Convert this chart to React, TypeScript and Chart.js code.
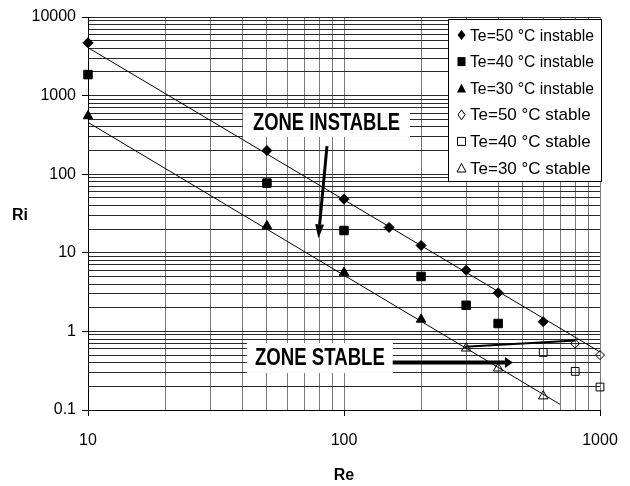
import React, { useEffect, useRef } from 'react';
import { Chart, registerables } from 'chart.js';

Chart.register(...registerables);

// ---- data ----
const te50InstableRe = [10, 50, 100, 150, 200, 300, 400, 600];
const te50InstableRi = [4700, 200, 48, 21, 12.4, 6.0, 3.1, 1.33];
const te40InstableRe = [10, 50, 100, 200, 300, 400];
const te40InstableRi = [1850, 77, 19.2, 5.0, 2.15, 1.26];
const te30InstableRe = [10, 50, 100, 200];
const te30InstableRi = [550, 22, 5.6, 1.42];
const te50StableRe = [800, 1000];
const te50StableRi = [0.7, 0.5];
const te40StableRe = [600, 800, 1000];
const te40StableRi = [0.54, 0.31, 0.196];
const te30StableRe = [300, 400, 600];
const te30StableRi = [0.61, 0.34, 0.15];

const trendUpperRe = [10, 1000];
const trendUpperRi = [4070, 0.547];
const trendLowerRe = [10, 698];
const trendLowerRi = [457, 0.118];

const seriesLabels = [
  'Te=50 °C instable',
  'Te=40 °C instable',
  'Te=30 °C instable',
  'Te=50 °C stable',
  'Te=40 °C stable',
  'Te=30 °C stable',
];

const xMajorValues = [10, 100, 1000];
const xMajorLabels = ['10', '100', '1000'];
const yMajorValues = [0.1, 1, 10, 100, 1000, 10000];
const yMajorLabels = ['0.1', '1', '10', '100', '1000', '10000'];

const xTitle = 'Re';
const yTitle = 'Ri';
const zoneInstableText = 'ZONE INSTABLE';
const zoneStableText = 'ZONE STABLE';

// annotation anchors in data coordinates
const instableLabelAt = { x: 85.4, y: 455 };
const instableArrow = { x1: 85.8, y1: 228, x2: 79.4, y2: 15.3 };
const stableLabelAt = { x: 80.5, y: 0.459 };
const stableArrow = { x1: 155, y1: 0.402, x2: 457, y2: 0.402 };
const stableConnector = { x1: 297, y1: 0.639, x2: 802, y2: 0.766 };

const FONT = "'Liberation Sans', Arial, sans-serif";

function decadeGrid(majors: number[]): number[] {
  const out: number[] = [];
  for (let i = 0; i < majors.length; i++) {
    const m = majors[i];
    if (i === majors.length - 1) {
      out.push(m);
    } else {
      for (let d = 1; d <= 9; d++) out.push(Number((m * d).toPrecision(6)));
    }
  }
  return out;
}

const pts = (xs: number[], ys: number[]) => xs.map((x, i) => ({ x, y: ys[i] }));

type MarkerKind = 'diamond' | 'square' | 'triangle';
const markerKinds: MarkerKind[] = ['diamond', 'square', 'triangle', 'diamond', 'square', 'triangle'];
const markerFilled = [true, true, true, false, false, false];

function drawMarker(ctx: CanvasRenderingContext2D, kind: MarkerKind, x: number, y: number, filled: boolean) {
  ctx.beginPath();
  if (kind === 'diamond') {
    const w = filled ? 4 : 3.5, h = 5;
    ctx.moveTo(x, y - h);
    ctx.lineTo(x + w, y);
    ctx.lineTo(x, y + h);
    ctx.lineTo(x - w, y);
  } else if (kind === 'square') {
    const w = 4, h = filled ? 4.5 : 4;
    ctx.rect(x - w, y - h, 2 * w, 2 * h);
  } else {
    const w = 4.5, h = filled ? 8.5 : 8;
    ctx.moveTo(x, y - h / 2 - 0.5);
    ctx.lineTo(x + w, y + h / 2);
    ctx.lineTo(x - w, y + h / 2);
  }
  ctx.closePath();
  if (filled) {
    ctx.fillStyle = '#000';
    ctx.fill();
  } else {
    ctx.lineWidth = 1;
    ctx.strokeStyle = '#000';
    ctx.stroke();
  }
}

function drawArrow(ctx: CanvasRenderingContext2D, x1: number, y1: number, x2: number, y2: number, lw: number, headLen: number, headHalf: number) {
  const ang = Math.atan2(y2 - y1, x2 - x1);
  const bx = x2 - Math.cos(ang) * headLen;
  const by = y2 - Math.sin(ang) * headLen;
  ctx.save();
  ctx.strokeStyle = '#000';
  ctx.fillStyle = '#000';
  ctx.lineWidth = lw;
  ctx.beginPath();
  ctx.moveTo(x1, y1);
  ctx.lineTo(bx, by);
  ctx.stroke();
  ctx.beginPath();
  ctx.moveTo(x2, y2);
  ctx.lineTo(bx + Math.sin(ang) * headHalf, by - Math.cos(ang) * headHalf);
  ctx.lineTo(bx - Math.sin(ang) * headHalf, by + Math.cos(ang) * headHalf);
  ctx.closePath();
  ctx.fill();
  ctx.restore();
}

const overlayPlugin = {
  id: 'overlay',
  afterDraw(chart: any) {
    const ctx: CanvasRenderingContext2D = chart.ctx;
    const xs = chart.scales.x;
    const ys = chart.scales.y;
    const area = chart.chartArea;
    const px = (v: number) => xs.getPixelForValue(v);
    const py = (v: number) => ys.getPixelForValue(v);
    ctx.save();

    // Y title (horizontal)
    ctx.fillStyle = '#000';
    ctx.font = `bold 16px ${FONT}`;
    ctx.textAlign = 'center';
    ctx.textBaseline = 'middle';
    ctx.fillText(yTitle, 20, (area.top + area.bottom) / 2 + 2);

    // ZONE INSTABLE label box
    {
      const cx = px(instableLabelAt.x), cy = py(instableLabelAt.y);
      const w = 167, h = 29;
      ctx.fillStyle = '#fff';
      ctx.fillRect(cx - w / 2, cy - h / 2, w, h);
      ctx.fillStyle = '#000';
      ctx.font = `bold 24px ${FONT}`;
      ctx.textAlign = 'center';
      ctx.textBaseline = 'middle';
      ctx.fillText(zoneInstableText, cx, cy + 1, 147);
    }
    drawArrow(ctx, px(instableArrow.x1), py(instableArrow.y1), px(instableArrow.x2), py(instableArrow.y2), 3, 14, 4.5);

    // ZONE STABLE label box
    {
      const cx = px(stableLabelAt.x), cy = py(stableLabelAt.y);
      const w = 146, h = 30;
      ctx.fillStyle = '#fff';
      ctx.fillRect(cx - w / 2, cy - h / 2, w, h);
      ctx.fillStyle = '#000';
      ctx.font = `bold 23px ${FONT}`;
      ctx.textAlign = 'center';
      ctx.textBaseline = 'middle';
      ctx.fillText(zoneStableText, cx, cy + 1, 130);
    }
    drawArrow(ctx, px(stableArrow.x1), py(stableArrow.y1), px(stableArrow.x2), py(stableArrow.y2), 4, 8, 5.5);

    // connector line between stable points
    ctx.strokeStyle = '#000';
    ctx.lineWidth = 2;
    ctx.beginPath();
    ctx.moveTo(px(stableConnector.x1), py(stableConnector.y1));
    ctx.lineTo(px(stableConnector.x2), py(stableConnector.y2));
    ctx.stroke();

    // legend box
    const lx = 448.5, ly = 19.5, lw = 153, lh = 162;
    ctx.fillStyle = '#fff';
    ctx.fillRect(lx, ly, lw, lh);
    ctx.strokeStyle = '#000';
    ctx.lineWidth = 1;
    ctx.strokeRect(lx, ly, lw, lh);
    ctx.font = `17px ${FONT}`;
    ctx.textAlign = 'left';
    ctx.textBaseline = 'middle';
    seriesLabels.forEach((lab, i) => {
      const ry = 35 + i * 26.6;
      drawMarker(ctx, markerKinds[i], 461.5, ry, markerFilled[i]);
      ctx.fillStyle = '#000';
      ctx.fillText(lab, 470, ry + 1, 124);
    });

    ctx.restore();
  },
};

export default function App() {
  const ref = useRef<HTMLCanvasElement>(null);
  useEffect(() => {
    const canvas = ref.current;
    if (!canvas) return;
    const xGrid = decadeGrid(xMajorValues);
    const yGrid = decadeGrid(yMajorValues);
    const common = { showLine: false, clip: false as any, borderColor: '#000', borderWidth: 1 };
    const chart = new Chart(canvas, {
      type: 'scatter',
      data: {
        datasets: [
          { label: 'trendUpper', data: pts(trendUpperRe, trendUpperRi), showLine: true, pointRadius: 0, borderColor: '#000', borderWidth: 1, clip: false as any },
          { label: 'trendLower', data: pts(trendLowerRe, trendLowerRi), showLine: true, pointRadius: 0, borderColor: '#000', borderWidth: 1, clip: false as any },
          { ...common, label: seriesLabels[0], data: pts(te50InstableRe, te50InstableRi), pointStyle: 'rectRot', pointRadius: 5, backgroundColor: '#000' },
          { ...common, label: seriesLabels[1], data: pts(te40InstableRe, te40InstableRi), pointStyle: 'rect', pointRadius: 6, backgroundColor: '#000' },
          { ...common, label: seriesLabels[2], data: pts(te30InstableRe, te30InstableRi), pointStyle: 'triangle', pointRadius: 5.5, backgroundColor: '#000' },
          { ...common, label: seriesLabels[3], data: pts(te50StableRe, te50StableRi), pointStyle: 'rectRot', pointRadius: 4.5, backgroundColor: 'rgba(0,0,0,0)' },
          { ...common, label: seriesLabels[4], data: pts(te40StableRe, te40StableRi), pointStyle: 'rect', pointRadius: 5.5, backgroundColor: 'rgba(0,0,0,0)' },
          { ...common, label: seriesLabels[5], data: pts(te30StableRe, te30StableRi), pointStyle: 'triangle', pointRadius: 5.5, backgroundColor: 'rgba(0,0,0,0)' },
        ],
      },
      options: {
        responsive: false,
        animation: false,
        devicePixelRatio: 1,
        layout: { padding: { top: 17, right: 30, left: 0, bottom: 0 } },
        plugins: { legend: { display: false }, tooltip: { enabled: false } },
        scales: {
          x: {
            type: 'logarithmic',
            min: 10,
            max: 1000,
            afterBuildTicks: (s: any) => {
              s.ticks = xGrid.map((v) => ({ value: v, major: xMajorValues.includes(v) }));
            },
            afterFit: (s: any) => {
              s.height = 76;
              s.paddingLeft = 0;
              s.paddingRight = 0;
            },
            ticks: {
              autoSkip: false,
              maxRotation: 0,
              padding: 15,
              color: '#000',
              font: { family: FONT, size: 16 },
              callback: (v: any) => {
                const i = xMajorValues.indexOf(Number(v));
                return i >= 0 ? xMajorLabels[i] : '';
              },
            },
            grid: {
              color: '#7a7a7a',
              lineWidth: 1,
              tickLength: 6,
              tickColor: (c: any) => (c.tick && c.tick.major ? '#000' : 'rgba(0,0,0,0)'),
            },
            border: { color: '#000', width: 1 },
            title: { display: true, text: xTitle, color: '#000', font: { family: FONT, size: 16, weight: 'bold' }, padding: { top: 0, bottom: 1 } },
          },
          y: {
            type: 'logarithmic',
            min: 0.1,
            max: 10000,
            afterBuildTicks: (s: any) => {
              s.ticks = yGrid.map((v) => ({ value: v, major: yMajorValues.includes(v) }));
            },
            afterFit: (s: any) => {
              s.width = 88;
              s.paddingTop = 0;
              s.paddingBottom = 0;
            },
            ticks: {
              autoSkip: false,
              padding: 6,
              color: '#000',
              font: { family: FONT, size: 16 },
              callback: (v: any) => {
                const i = yMajorValues.indexOf(Number(v));
                return i >= 0 ? yMajorLabels[i] : '';
              },
            },
            grid: {
              color: '#2a2a2a',
              lineWidth: 1,
              tickLength: 6,
              tickColor: (c: any) => (c.tick && c.tick.major ? '#000' : 'rgba(0,0,0,0)'),
            },
            border: { color: '#000', width: 1 },
          },
        },
      },
      plugins: [overlayPlugin],
    } as any);
    return () => chart.destroy();
  }, []);
  return (
    <div style={{ position: 'fixed', left: 0, top: 0, width: 630, height: 486, background: '#fff' }}>
      <canvas ref={ref} width={630} height={486} style={{ width: 630, height: 486, display: 'block' }} />
    </div>
  );
}
